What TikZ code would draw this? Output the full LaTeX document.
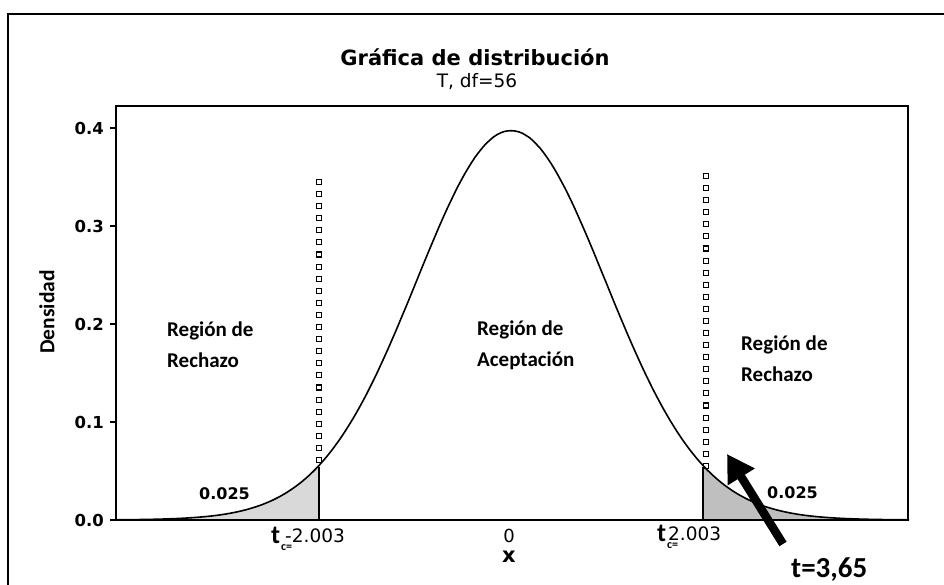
\documentclass[tikz,border=0pt]{standalone}
\usepackage{fontspec}
\setmainfont{Carlito}
\newfontfamily\numfont{DejaVu Sans}
\usetikzlibrary{arrows.meta}
\tikzset{
  frameline/.style={line width=1.8pt},
  curveline/.style={line width=1.6pt},
  ticklab/.style={anchor=east, font=\numfont\bfseries\fontsize{16.5}{17}\selectfont, inner sep=0pt},
  regionlab/.style={anchor=base west, align=left, font=\bfseries\fontsize{21}{31}\selectfont, inner sep=0pt},
  problab/.style={anchor=base west, font=\numfont\bfseries\fontsize{16}{18}\selectfont, inner sep=0pt},
  critlab/.style={anchor=base west, font=\numfont\fontsize{18.5}{19}\selectfont, inner sep=0pt},
  sq/.style={line width=1.1pt},
}
\begin{document}
\begin{tikzpicture}[x=1pt,y=-1pt]
\useasboundingbox (0,0) rectangle (944,585);
% outer frame (only top and left visible)
\draw[line width=1.4pt] (950,14) -- (8,14) -- (8,590);
% title
\node[font=\numfont\bfseries\fontsize{21}{22}\selectfont, anchor=base, inner sep=0pt] (title) at (475,66) {Gráfica de distribución};
\node[font=\numfont\fontsize{18.5}{19}\selectfont, anchor=base, inner sep=0pt] (sub) at (477,88) {T, df=56};
% tails shading
\fill[gray!30] plot[domain=-4.1:-2.003, samples=60] ({511+96*\x},{520-980*0.3972*exp(-28.5*ln(1+\x*\x/56))}) -- (319,520) -- cycle;
\fill[gray!50] plot[domain=2.003:4.15, samples=60] ({511+96*\x},{520-980*0.3972*exp(-28.5*ln(1+\x*\x/56))}) -- (909,520) -- (703,520) -- cycle;
% curve
\draw[curveline] plot[domain=-4.1:4.15, samples=220] ({511+96*\x},{520-980*0.3972*exp(-28.5*ln(1+\x*\x/56))});
% critical lines
\coordinate (lbot) at (319,520);
\coordinate (ltop) at (319,467);
\coordinate (rbot) at (703,520);
\coordinate (rtop) at (703,467);
\draw[line width=1.8pt] (lbot) -- (ltop);
\draw[line width=1.8pt] (rbot) -- (rtop);
% dotted square columns
\foreach \i in {0,...,23} \draw[sq] ({316.5},{179.5+12.09*\i}) rectangle ++(5,5);
\foreach \i in {0,...,24} \draw[sq] ({703.5},{173.5+12.08*\i}) rectangle ++(5,5);
% plot frame
\draw[frameline] (116,106) rectangle (908,520);
% y ticks
\foreach \v/\yy in {0.0/520,0.1/422,0.2/324,0.3/226,0.4/128}{
  \draw[line width=1.3pt] (110,\yy) -- (116,\yy);
  \node[ticklab] at (104,\yy) {\v};
}
\node[rotate=90, font=\bfseries\fontsize{21.5}{22}\selectfont, inner sep=0pt] (ylab) at (47,312) {Densidad};
% region labels (anchor = baseline of last line)
\node[regionlab] (rl) at (167,367) {Región de\\Rechazo};
\node[regionlab] (ra) at (477,366) {Región de\\Aceptación};
\node[regionlab] (rr) at (741,381) {Región de\\Rechazo};
% tail probabilities
\node[problab] (pl) at (199,499) {0.025};
\node[problab] (pr) at (767,498) {0.025};
% x labels
\node[anchor=base west, inner sep=0pt, font=\bfseries\fontsize{26}{26}\selectfont] (tl) at (271,543) {t};
\node[anchor=base west, inner sep=0pt, font=\bfseries\fontsize{12}{12}\selectfont] (tlc) at (281,550) {c=};
\node[critlab] (vl) at (285,542) {-2.003};
\node[anchor=base west, inner sep=0pt, font=\bfseries\fontsize{26}{26}\selectfont] (tr) at (657,541) {t};
\node[anchor=base west, inner sep=0pt, font=\bfseries\fontsize{12}{12}\selectfont] (trc) at (667,548) {c=};
\node[critlab] (vr) at (668,540) {2.003};
\node[anchor=base, inner sep=0pt, font=\numfont\fontsize{18}{18}\selectfont] (zero) at (509,542) {0};
\node[anchor=base, inner sep=0pt, font=\numfont\bfseries\fontsize{21}{21}\selectfont] (xl) at (509,562) {x};
% statistic
\node[anchor=base west, inner sep=0pt, font=\bfseries\fontsize{29}{29}\selectfont] (tstat) at (791,577) {t=3,65};
\coordinate (atail) at (783,544);
\coordinate (atip) at (727,454);
\draw[line width=8.5pt, -{Triangle[length=27pt, width=30pt]}] (atail) -- (atip);
\end{tikzpicture}
\end{document}
